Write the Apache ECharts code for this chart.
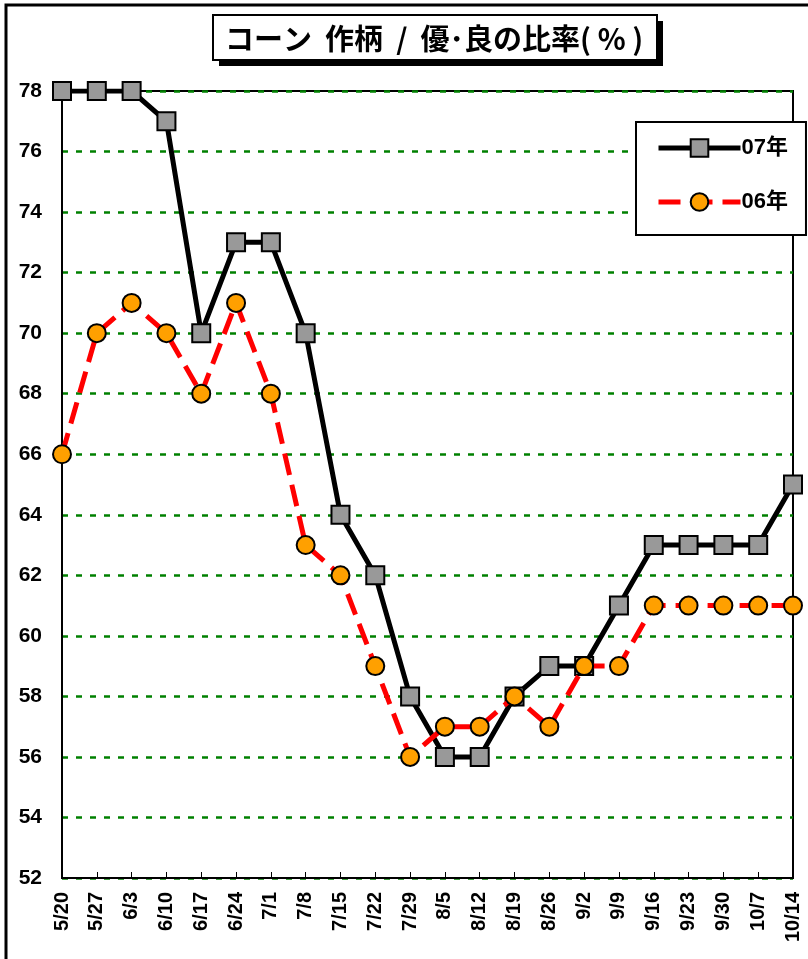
<!DOCTYPE html>
<html><head><meta charset="utf-8">
<script src="https://cdn.jsdelivr.net/npm/echarts@6/dist/echarts.min.js"></script>
<style>html,body{margin:0;padding:0;background:#fff}#c{width:808px;height:959px}</style>
</head><body><div id="c"></div>
<script>
var categories = ['5/20','5/27','6/3','6/10','6/17','6/24','7/1','7/8','7/15','7/22','7/29','8/5','8/12','8/19','8/26','9/2','9/9','9/16','9/23','9/30','10/7','10/14'];
var values07 = [78,78,78,77,70,73,73,70,64,62,58,56,56,58,59,59,61,63,63,63,63,65];
var values06 = [66,70,71,70,68,71,68,63,62,59,56,57,57,58,57,59,59,61,61,61,61,61];
var yTicks = [52,54,56,58,60,62,64,66,68,70,72,74,76,78];
var titleText = 'コーン  作柄  /  優･良の比率( % )';
var name07 = '07年', name06 = '06年';

var chart = echarts.init(document.getElementById('c'), null, {renderer:'canvas'});
var fontLatin = '"Liberation Sans", Arial, sans-serif';
var fontNarrow = '"Liberation Sans Narrow", "Liberation Sans", Arial, sans-serif';
var fontCJK = '"Noto Sans CJK JP", sans-serif';
var fontLeg = '"Liberation Sans", "Noto Sans CJK JP", sans-serif';
chart.setOption({
  animation:false,
  backgroundColor:'#fff',
  graphic:[
    {type:'rect', shape:{x:6,y:5,width:830,height:980}, style:{fill:'none', stroke:'#000', lineWidth:3}, z:0},
    {type:'rect', shape:{x:219,y:21,width:444,height:45}, style:{fill:'#000'}, z:10},
    {type:'rect', shape:{x:213,y:15,width:444,height:45}, style:{fill:'#fff', stroke:'#000', lineWidth:2}, z:11},
    {type:'text', x:434, y:39, style:{text:titleText, font:'bold 29px '+fontCJK, fill:'#000', textAlign:'center', textVerticalAlign:'middle'}, z:12}
  ],
  grid:{left:62, right:15, top:91, bottom:81, show:true, borderColor:'#000', borderWidth:2, backgroundColor:'transparent'},
  legend:{
    orient:'vertical', left:636, top:122,
    backgroundColor:'#fff', borderColor:'#000', borderWidth:2,
    padding:[15,18,22,20], itemGap:32, itemWidth:82, itemHeight:22,
    lineStyle:{width:5},
    textStyle:{fontFamily:fontLeg, fontWeight:'bold', fontSize:22, color:'#000', padding:[0,0,0,-4]},
    data:[name07, name06]
  },
  xAxis:{
    type:'category', data:categories, boundaryGap:false,
    axisLine:{lineStyle:{color:'#000', width:2}},
    axisTick:{show:true, alignWithLabel:true, length:-6, lineStyle:{color:'#000', width:1}},
    axisLabel:{rotate:90, fontFamily:fontLatin, fontWeight:'bold', fontSize:20, color:'#000', margin:14, interval:0},
    splitLine:{show:false}
  },
  yAxis:{
    type:'value', min:52, max:78, interval:2,
    axisLine:{show:true, lineStyle:{color:'#000', width:2}},
    axisTick:{show:false},
    axisLabel:{fontFamily:fontNarrow, fontWeight:'bold', fontSize:21, color:'#000', margin:20,
      customValues: yTicks},
    splitLine:{show:true, lineStyle:{color:'#008000', width:2.5, type:[6,8]}}
  },
  series:[
    {name:name07, type:'line', data:values07, symbol:'rect', symbolSize:18,
     lineStyle:{color:'#000', width:5},
     itemStyle:{color:'#999999', borderColor:'#000', borderWidth:2},
     z:3},
    {name:name06, type:'line', data:values06, symbol:'circle', symbolSize:18,
     lineStyle:{color:'#ff0000', width:5, type:[22,10]},
     itemStyle:{color:'#ffa000', borderColor:'#000', borderWidth:2},
     z:4}
  ]
});
</script></body></html>
